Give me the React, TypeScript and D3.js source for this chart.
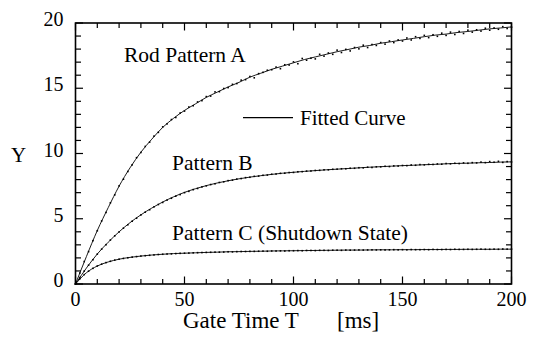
import React, { useEffect, useRef } from "react";
import * as d3 from "d3";

// gate time grid (ms)
const fitStep = 5;
const dataStep = 2;

// fitted curves, one value every 5 ms from 0 to 200
const fitA = [0, 2.1, 4.1, 5.85, 7.5, 8.9, 10.1, 11.1, 12.0, 12.7, 13.3, 13.8, 14.3, 14.7, 15.1, 15.45, 15.85, 16.15, 16.45, 16.7, 16.95, 17.2, 17.4, 17.6, 17.8, 17.97, 18.15, 18.28, 18.45, 18.57, 18.7, 18.82, 18.95, 19.07, 19.15, 19.27, 19.35, 19.45, 19.55, 19.62, 19.7];
const fitB = [0, 1.22, 2.3, 3.2, 4.0, 4.7, 5.3, 5.82, 6.28, 6.68, 7.02, 7.3, 7.54, 7.74, 7.91, 8.06, 8.19, 8.3, 8.4, 8.49, 8.56, 8.63, 8.69, 8.75, 8.8, 8.85, 8.9, 8.95, 8.99, 9.03, 9.07, 9.1, 9.14, 9.17, 9.21, 9.24, 9.26, 9.29, 9.31, 9.34, 9.36];
const fitC = [0, 0.86, 1.38, 1.69, 1.9, 2.04, 2.14, 2.22, 2.28, 2.33, 2.36, 2.39, 2.42, 2.44, 2.47, 2.48, 2.5, 2.51, 2.53, 2.54, 2.55, 2.56, 2.57, 2.58, 2.59, 2.6, 2.6, 2.61, 2.62, 2.62, 2.63, 2.63, 2.64, 2.64, 2.65, 2.65, 2.66, 2.66, 2.66, 2.67, 2.67];

// measured points, one every 2 ms from 0 to 200
const dataA = [
  0, 0.84, 1.72, 2.48, 3.32, 4.08, 4.83, 5.48, 6.22, 6.83,
  7.52, 8.03, 8.62, 9.13, 9.68, 10.08, 10.54, 10.87, 11.33, 11.62,
  12.04, 12.27, 12.6, 12.76, 13.1, 13.25, 13.56, 13.66, 13.95, 14.05,
  14.36, 14.4, 14.72, 14.74, 14.98, 15.05, 15.3, 15.36, 15.62, 15.66,
  15.9, 15.8, 16.12, 16.22, 16.38, 16.42, 16.62, 16.5, 16.8, 16.78,
  17.02, 16.88, 17.28, 17.15, 17.3, 17.25, 17.6, 17.46, 17.7, 17.6,
  17.92, 17.74, 17.98, 17.86, 18.12, 18.02, 18.3, 18.12, 18.35, 18.28,
  18.5, 18.38, 18.62, 18.5, 18.7, 18.62, 18.85, 18.7, 18.95, 18.82,
  19.05, 18.88, 19.1, 18.98, 19.22, 19.05, 19.3, 19.12, 19.35, 19.2,
  19.45, 19.3, 19.48, 19.38, 19.6, 19.45, 19.62, 19.52, 19.72, 19.58,
  19.68,
];
const dataB = [
  0, 0.5, 0.99, 1.44, 1.86, 2.29, 2.67, 3.01, 3.37, 3.69,
  3.99, 4.28, 4.54, 4.81, 5.04, 5.29, 5.51, 5.69, 5.91, 6.09,
  6.25, 6.43, 6.57, 6.73, 6.85, 7.0, 7.1, 7.23, 7.32, 7.44,
  7.52, 7.62, 7.68, 7.78, 7.83, 7.92, 7.96, 8.04, 8.08, 8.15,
  8.18, 8.25, 8.27, 8.33, 8.35, 8.41, 8.43, 8.48, 8.49, 8.54,
  8.55, 8.6, 8.61, 8.65, 8.66, 8.7, 8.71, 8.75, 8.75, 8.79,
  8.8, 8.83, 8.83, 8.87, 8.87, 8.91, 8.9, 8.95, 8.93, 8.98,
  8.98, 9.02, 9.0, 9.05, 9.04, 9.08, 9.07, 9.12, 9.1, 9.15,
  9.13, 9.17, 9.16, 9.2, 9.18, 9.23, 9.21, 9.25, 9.23, 9.28,
  9.25, 9.3, 9.28, 9.34, 9.3, 9.38, 9.33, 9.4, 9.32, 9.38,
  9.35,
];
const dataC = [
  0, 0.4, 0.72, 0.98, 1.2, 1.38, 1.52, 1.64, 1.74, 1.83,
  1.9, 1.96, 2.01, 2.06, 2.1, 2.14, 2.17, 2.2, 2.23, 2.26,
  2.28, 2.3, 2.31, 2.33, 2.35, 2.36, 2.37, 2.39, 2.4, 2.41,
  2.42, 2.43, 2.44, 2.44, 2.45, 2.47, 2.46, 2.48, 2.49, 2.49,
  2.5, 2.5, 2.51, 2.52, 2.51, 2.53, 2.53, 2.54, 2.53, 2.55,
  2.55, 2.56, 2.55, 2.57, 2.57, 2.56, 2.58, 2.58, 2.57, 2.59,
  2.59, 2.58, 2.6, 2.59, 2.6, 2.61, 2.6, 2.61, 2.62, 2.61,
  2.62, 2.61, 2.62, 2.63, 2.62, 2.63, 2.62, 2.64, 2.63, 2.63,
  2.64, 2.63, 2.65, 2.64, 2.64, 2.65, 2.64, 2.66, 2.65, 2.65,
  2.66, 2.65, 2.66, 2.67, 2.66, 2.66, 2.67, 2.66, 2.68, 2.67,
  2.67,
];

const xTicks = [0, 50, 100, 150, 200];
const yTicks = [0, 5, 10, 15, 20];

const width = 533;
const height = 338;
const left = 75.5, right = 511.5, top = 23, bottom = 284;
const font = "Liberation Serif, Times New Roman, serif";

export default function App() {
  const ref = useRef<SVGSVGElement>(null);

  useEffect(() => {
    const svg = d3.select(ref.current);
    svg.selectAll("*").remove();

    const x = d3.scaleLinear().domain([0, 200]).range([left, right]);
    const y = d3.scaleLinear().domain([0, 20]).range([bottom, top]);

    const g = svg.append("g");

    // fitted curves
    const line = d3.line<number>()
      .x((d, i) => x(i * fitStep))
      .y(d => y(d))
      .curve(d3.curveMonotoneX);
    [fitA, fitB, fitC].forEach(s => {
      g.append("path")
        .attr("d", line(s))
        .attr("fill", "none")
        .attr("stroke", "#000")
        .attr("stroke-width", 0.9);
    });

    // measured points
    [dataA, dataB, dataC].forEach(s => {
      g.selectAll(null)
        .data(s)
        .enter().append("rect")
        .attr("x", (d, i) => x(i * dataStep) - 0.8)
        .attr("y", d => y(d) - 0.8)
        .attr("width", 1.6)
        .attr("height", 1.6)
        .attr("fill", "#000");
    });

    // frame
    g.append("rect")
      .attr("x", left).attr("y", top)
      .attr("width", right - left).attr("height", bottom - top)
      .attr("fill", "none").attr("stroke", "#000").attr("stroke-width", 1.6);

    // inward ticks on all four sides
    const tk = g.append("g").attr("stroke", "#000").attr("stroke-width", 1.2);
    d3.range(0, 201, 10).forEach(v => {
      const len = v % 50 === 0 ? 7.5 : 5;
      tk.append("line").attr("x1", x(v)).attr("x2", x(v)).attr("y1", bottom).attr("y2", bottom - len);
      tk.append("line").attr("x1", x(v)).attr("x2", x(v)).attr("y1", top).attr("y2", top + len);
    });
    d3.range(0, 21, 1).forEach(v => {
      const len = v % 5 === 0 ? 7.5 : 5.5;
      tk.append("line").attr("y1", y(v)).attr("y2", y(v)).attr("x1", left).attr("x2", left + len);
      tk.append("line").attr("y1", y(v)).attr("y2", y(v)).attr("x1", right).attr("x2", right - len);
    });

    // tick labels
    const txt = svg.append("g").style("font-family", font).attr("fill", "#000");
    xTicks.forEach(v => {
      txt.append("text").attr("x", x(v)).attr("y", 306)
        .attr("text-anchor", "middle").attr("font-size", 20).text(v);
    });
    yTicks.forEach(v => {
      txt.append("text").attr("x", 63.5).attr("y", y(v) + 3)
        .attr("text-anchor", "end").attr("font-size", 20).text(v);
    });

    // axis titles
    txt.append("text").attr("x", 183).attr("y", 328).attr("font-size", 23).text("Gate Time T");
    txt.append("text").attr("x", 337).attr("y", 328).attr("font-size", 23).text("[ms]");
    txt.append("text").attr("x", 11).attr("y", 162).attr("font-size", 21).text("Y");

    // curve labels
    txt.append("text").attr("x", 124).attr("y", 61.5).attr("font-size", 21.5).text("Rod Pattern A");
    txt.append("text").attr("x", 172).attr("y", 169.5).attr("font-size", 21.5).text("Pattern B");
    txt.append("text").attr("x", 172).attr("y", 239.5).attr("font-size", 21.5).text("Pattern C (Shutdown State)");

    // legend
    g.append("line").attr("x1", 243).attr("x2", 293).attr("y1", 117.7).attr("y2", 117.7)
      .attr("stroke", "#000").attr("stroke-width", 1.2);
    txt.append("text").attr("x", 300).attr("y", 125).attr("font-size", 21).text("Fitted Curve");
  }, []);

  return (
    <svg ref={ref} width={width} height={height}
      style={{ position: "absolute", left: 0, top: 0, background: "#fff" }} />
  );
}
